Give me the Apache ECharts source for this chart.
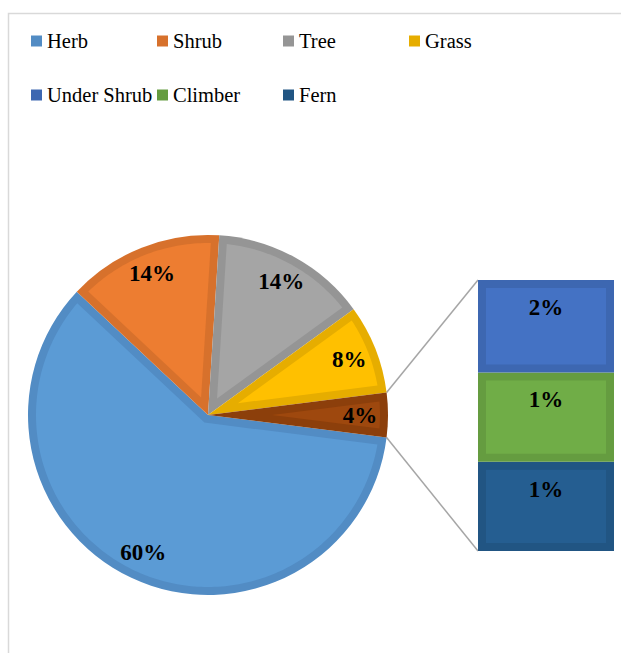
<!DOCTYPE html>
<html><head><meta charset="utf-8">
<script src="https://cdn.jsdelivr.net/npm/echarts@6/dist/echarts.min.js"></script>
<style>html,body{margin:0;padding:0;background:#fff}#c{width:621px;height:653px}</style>
</head><body><div id="c"></div>
<script>
// ---- data ----
const pieNames = ['Herb', 'Shrub', 'Tree', 'Grass', 'Other'];
const pieValues = [60, 14, 14, 8, 4];
const barNames = ['Under Shrub', 'Climber', 'Fern'];   // top to bottom
const barValues = [1.5, 1.45, 1.45];
const legendRow1 = ['Herb', 'Shrub', 'Tree', 'Grass'];
const legendRow2 = ['Under Shrub', 'Climber', 'Fern'];

// ---- styles ----
const FILL = {Herb:'#5B9BD5', Shrub:'#ED7D31', Tree:'#A5A5A5', Grass:'#FFC000', Other:'#9E480E',
  'Under Shrub':'#4472C4', Climber:'#70AD47', Fern:'#255E91'};
const EDGE = {Herb:'#528CC4', Shrub:'#D7712C', Tree:'#959595', Grass:'#E6AD00', Other:'#8C3F0B',
  'Under Shrub':'#3D67B1', Climber:'#659C40', Fern:'#215583'};
const PIE_C = [208, 415], PIE_R = 180, START = -7.2, BW = 8;
const GRID = {left: 478, top: 280, width: 136, height: 271};
const FONT = '"Liberation Serif", "Times New Roman", serif';

const pieTotal = pieValues.reduce((a, b) => a + b, 0);
const barTotal = barValues.reduce((a, b) => a + b, 0);

// stack from bottom: reversed order
const stackOrder = barNames.map((n, i) => i).reverse();
const barRanges = {};
let acc = 0;
stackOrder.forEach(i => { barRanges[i] = [acc, acc + barValues[i]]; acc += barValues[i]; });

function pieInset(params, api) {
  const i = params.dataIndex;
  let before = 0;
  for (let k = 0; k < i; k++) before += pieValues[k];
  const a0 = (START - before / pieTotal * 360) * Math.PI / 180;
  const th = pieValues[i] / pieTotal * 2 * Math.PI;
  const Ri = PIE_R - BW;
  const dl = Math.asin(BW / Ri);
  const b = a0 - th / 2;
  const d = BW / Math.sin(th / 2);
  const P = (r, a) => [PIE_C[0] + r * Math.cos(a), PIE_C[1] - r * Math.sin(a)];
  const pts = [P(d, b)];
  const span = th - 2 * dl;
  const n = Math.max(8, Math.ceil(span / 0.02));
  for (let k = 0; k <= n; k++) pts.push(P(Ri, a0 - dl - span * k / n));
  return {type: 'polygon', shape: {points: pts}, style: {fill: FILL[pieNames[i]]}};
}

function barInset(params, api) {
  const lo = api.value(1), hi = api.value(2), v = api.value(3);
  const top = api.coord([0, hi]);
  const bot = api.coord([0, lo]);
  const w = api.size([1, 0])[0];
  const name = barNames[params.dataIndex];
  return {type: 'group', children: [
    {type: 'rect', shape: {x: top[0] - w / 2 + BW, y: top[1] + BW, width: w - 2 * BW, height: bot[1] - top[1] - 2 * BW},
      style: {fill: FILL[name]}},
    {type: 'text', z2: 10, style: {text: Math.round(v) + '%', x: top[0], y: top[1] + 16, align: 'center', verticalAlign: 'top',
      font: 'bold 23px ' + FONT, fill: '#000'}}
  ]};
}

const chart = echarts.init(document.getElementById('c'), null, {renderer: 'svg'});

const legendBase = {
  itemWidth: 11, itemHeight: 11, itemGap: 4, icon: 'rect', selectedMode: false, padding: 0,
  itemStyle: {borderWidth: 0},
  textStyle: {fontFamily: FONT, fontSize: 20.5, color: '#000', width: 106, lineHeight: 26, padding: 0}
};

chart.setOption({
  animation: false,
  backgroundColor: '#fff',
  legend: [
    Object.assign({}, legendBase, {left: 31, top: 28, data: legendRow1.map(n => ({name: n, itemStyle: {color: EDGE[n]}}))}),
    Object.assign({}, legendBase, {left: 31, top: 82, data: legendRow2.map(n => ({name: n, itemStyle: {color: EDGE[n]}}))})
  ],
  grid: Object.assign({containLabel: false}, GRID),
  xAxis: {type: 'category', data: ['Other'], show: false, boundaryGap: true},
  yAxis: {type: 'value', min: 0, max: barTotal, show: false},
  graphic: [{id: 'frame', type: 'polyline', silent: true,
    shape: {points: [[8.5, 653], [8.5, 13.5], [621, 13.5]]}, style: {stroke: '#D9D9D9', lineWidth: 1.5, fill: 'none'}}],
  series: [
    {type: 'pie', name: 'pieOuter', center: PIE_C, radius: [0, PIE_R], startAngle: START, clockwise: true,
      silent: true, avoidLabelOverlap: false, emphasis: {disabled: true}, z: 2,
      label: {show: false}, labelLine: {show: false},
      data: pieNames.map((n, i) => ({name: n, value: pieValues[i], itemStyle: {color: EDGE[n], borderWidth: 0}}))},
    {type: 'custom', name: 'pieFill', coordinateSystem: 'none', silent: true, renderItem: pieInset, z: 3,
      dimensions: ['v'], data: pieValues.map(v => [v])},
    {type: 'pie', name: 'pieLabels', center: PIE_C, radius: [118, PIE_R], startAngle: START, clockwise: true, z: 5,
      silent: true, avoidLabelOverlap: false, emphasis: {disabled: true},
      itemStyle: {color: 'rgba(0,0,0,0)', borderWidth: 0},
      label: {show: true, position: 'inside', formatter: '{c}%', fontFamily: FONT, fontSize: 23, fontWeight: 'bold',
        color: '#000', textBorderWidth: 0},
      labelLine: {show: false},
      data: pieNames.map((n, i) => ({name: n, value: pieValues[i]}))},
    ...stackOrder.map(i => ({type: 'bar', name: barNames[i], stack: 'other', barWidth: '100%', silent: true, z: 2,
      itemStyle: {color: EDGE[barNames[i]], borderWidth: 0}, data: [barValues[i]]})),
    {type: 'custom', name: 'barFill', coordinateSystem: 'cartesian2d', silent: true, renderItem: barInset, z: 4,
      data: barNames.map((n, i) => [0, barRanges[i][0], barRanges[i][1], barValues[i]])}
  ]
});

// connector lines: from the "Other" slice edges to the bar corners
const otherIdx = pieNames.indexOf('Other');
let beforeOther = 0;
for (let k = 0; k < otherIdx; k++) beforeOther += pieValues[k];
const degStart = START - beforeOther / pieTotal * 360;
const degEnd = degStart - pieValues[otherIdx] / pieTotal * 360;
const edgePt = deg => [PIE_C[0] + PIE_R * Math.cos(deg * Math.PI / 180), PIE_C[1] - PIE_R * Math.sin(deg * Math.PI / 180)];
const topPx = chart.convertToPixel({gridIndex: 0}, [0, barTotal]);
const botPx = chart.convertToPixel({gridIndex: 0}, [0, 0]);
const barLeft = topPx[0] - GRID.width / 2;
const p1 = edgePt(degStart), p2 = edgePt(degEnd);
chart.setOption({graphic: [
  {id: 'frame'},
  {id: 'l1', type: 'line', silent: true, shape: {x1: p1[0], y1: p1[1], x2: barLeft, y2: topPx[1]}, style: {stroke: '#A6A6A6', lineWidth: 1.5}},
  {id: 'l2', type: 'line', silent: true, shape: {x1: p2[0], y1: p2[1], x2: barLeft, y2: botPx[1]}, style: {stroke: '#A6A6A6', lineWidth: 1.5}}
]});
</script></body></html>
